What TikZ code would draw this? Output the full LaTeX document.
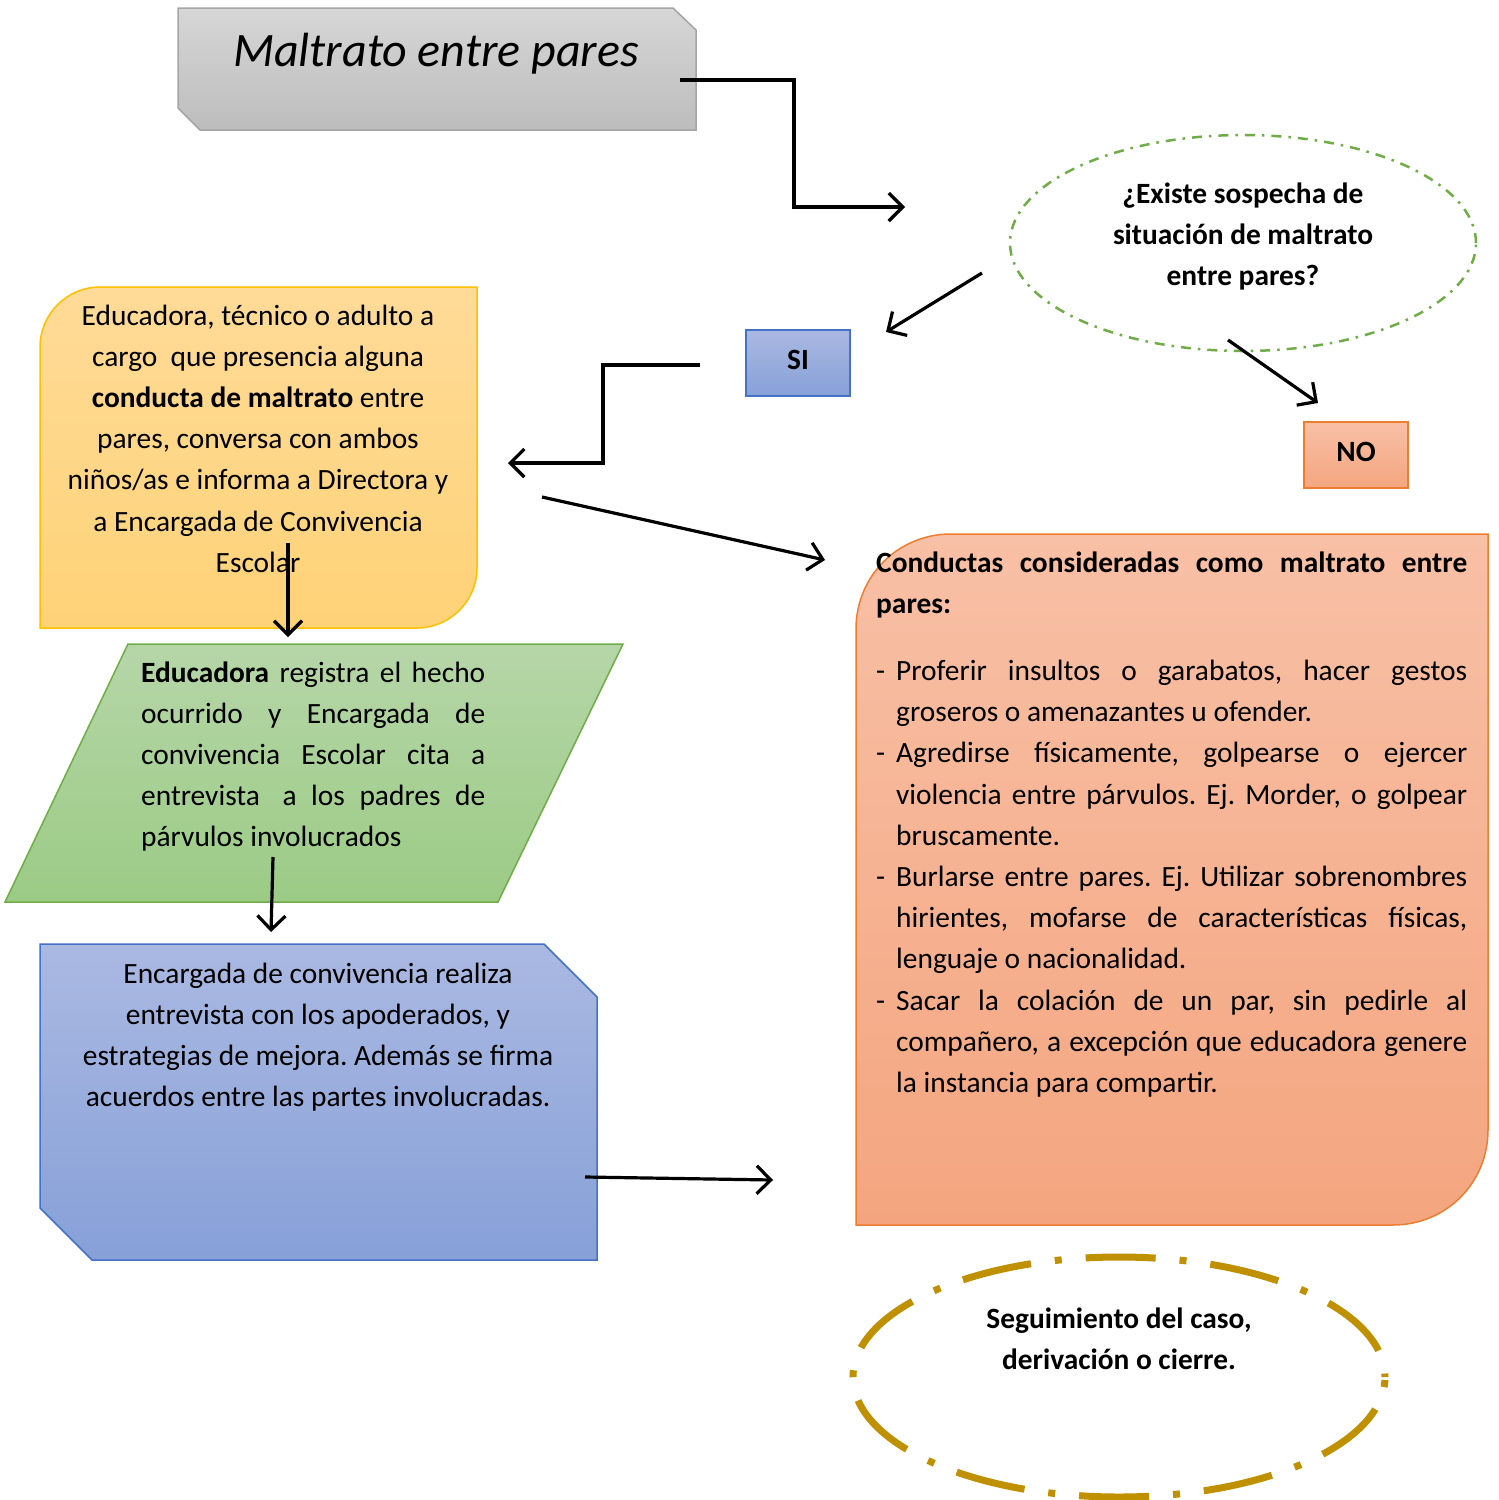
\documentclass[tikz,border=0pt]{standalone}
\usepackage{fontspec}
\setmainfont{Carlito}
\usetikzlibrary{arrows.meta,shapes.geometric}
\definecolor{titleTop}{HTML}{D6D6D6}
\definecolor{titleBot}{HTML}{BDBDBD}
\definecolor{titleLine}{HTML}{A5A5A5}
\definecolor{yelTop}{HTML}{FFDB98}
\definecolor{yelBot}{HTML}{FED277}
\definecolor{yelLine}{HTML}{FFC000}
\definecolor{grnTop}{HTML}{B6D6A8}
\definecolor{grnBot}{HTML}{9BCB85}
\definecolor{grnLine}{HTML}{70AD47}
\definecolor{bluTop}{HTML}{AAB9E2}
\definecolor{bluBot}{HTML}{87A0D8}
\definecolor{bluLine}{HTML}{4472C4}
\definecolor{orgTop}{HTML}{F8C0A6}
\definecolor{orgBot}{HTML}{F4A57F}
\definecolor{orgLine}{HTML}{ED7D31}
\definecolor{goldLine}{HTML}{BF9000}
\newcommand\ns{\spaceskip=0pt\relax\xspaceskip=0pt\relax\frenchspacing}
\newcommand\nc{\ns\leftskip=0pt plus 1fil\relax\rightskip=0pt plus 1fil\relax\parfillskip=0pt\relax}
\newcommand\nl{\ns\leftskip=0pt\relax\rightskip=0pt plus 1fil\relax}
\newcommand\jl[2]{\leavevmode\hbox to #1{\spaceskip=\fontdimen2\font plus 1fil\relax\xspaceskip=\spaceskip #2}}
\begin{document}
\begin{tikzpicture}[x=1pt,y=-1pt,
  arr/.style={line width=3.2pt,-{Straight Barb[length=14pt,width=28pt]}},
  body/.style={font=\fontsize{29.4}{41.2}\selectfont, inner sep=0pt},
  bbody/.style={font=\fontsize{29.4}{41.2}\selectfont\bfseries, inner sep=0pt},
  shapeline/.style={line width=1.5pt}
]
\useasboundingbox (0,0) rectangle (1499,1500);
\fill[white] (0,0) rectangle (1499,1500);

% title
\path[shapeline, draw=titleLine, top color=titleTop, bottom color=titleBot]
  (178,8) -- (673,8) -- (696,30) -- (696,130) -- (200,130) -- (178,108) -- cycle;
\node[font=\fontsize{48}{58}\selectfont\itshape, anchor=base, inner sep=0] (title) at (436,66) {Maltrato entre pares};

% question ellipse
\node[ellipse, draw=grnLine, line width=2.5pt, dash pattern=on 10pt off 7pt on 2.5pt off 7pt,
  minimum width=466pt, minimum height=216pt, inner sep=0] (q) at (1243,243) {};
\node[bbody, align=center, anchor=base, text width=420pt] (qtext) at (1243,203) {\nc ¿Existe sospecha de\\situación de maltrato\\entre pares?\par};

% SI / NO
\node[shapeline, draw=bluLine, top color=bluTop, bottom color=bluBot, minimum width=104pt, minimum height=66pt,
  inner sep=0] (si) at (798,363) {};
\node[font=\fontsize{29.4}{35}\selectfont\bfseries, inner sep=0, anchor=base] (sitext) at (798,369) {SI};
\node[shapeline, draw=orgLine, top color=orgTop, bottom color=orgBot, minimum width=104pt, minimum height=66pt,
  inner sep=0] (no) at (1356,455) {};
\node[font=\fontsize{29.4}{35}\selectfont\bfseries, inner sep=0, anchor=base] (notext) at (1356,461) {NO};

% yellow box
\path[shapeline, draw=yelLine, top color=yelTop, bottom color=yelBot]
  (40,628) -- (40,347) .. controls (40,314) and (67,287) .. (100,287) -- (477,287) -- (477,568)
  .. controls (477,601) and (450,628) .. (417,628) -- cycle;
\node[body, align=center, anchor=base, text width=430pt] (ytext) at (258,325)
  {\nc Educadora, técnico o adulto a\\cargo \ que presencia alguna\\\textbf{conducta de maltrato} entre\\pares, conversa con ambos\\niños/as e informa a Directora y\\a Encargada de Convivencia\\Escolar\par};

% green parallelogram
\path[shapeline, draw=grnLine, top color=grnTop, bottom color=grnBot]
  (128,644) -- (623,644) -- (498,902) -- (5,902) -- cycle;
\node[body, align=left, anchor=base west, text width=344pt] (gtext) at (141,682)
  {\nl\jl{344pt}{\textbf{Educadora} registra el hecho}\\
   \jl{344pt}{ocurrido y Encargada de}\\
   \jl{344pt}{convivencia Escolar cita a}\\
   \jl{344pt}{entrevista\hspace{8pt} a los padres de}\\
   párvulos involucrados\par};

% blue snipped box
\path[shapeline, draw=bluLine, top color=bluTop, bottom color=bluBot]
  (40,944) -- (544,944) -- (597,997) -- (597,1260) -- (92,1260) -- (40,1208) -- cycle;
\node[body, align=center, anchor=base, text width=540pt] (btext) at (318,983)
  {\nc Encargada de convivencia realiza\\entrevista con los apoderados, y\\estrategias de mejora. Además se firma\\acuerdos entre las partes involucradas.\par};

% orange box
\path[shapeline, draw=orgLine, top color=orgTop, bottom color=orgBot]
  (856,1225) -- (856,629) .. controls (856,576) and (898,534) .. (951,534) -- (1488,534) -- (1488,1130)
  .. controls (1488,1183) and (1446,1225) .. (1393,1225) -- cycle;
\node[body, align=left, anchor=base west, text width=591pt] (otext) at (876,572)
  {\nl\jl{591pt}{\bfseries Conductas consideradas como maltrato entre}\\
   \textbf{pares:}\\[26pt]
   \makebox[20pt][l]{-}\jl{571pt}{Proferir insultos o garabatos, hacer gestos}\\
   \hspace*{20pt}groseros o amenazantes u ofender.\\
   \makebox[20pt][l]{-}\jl{571pt}{Agredirse físicamente, golpearse o ejercer}\\
   \hspace*{20pt}\jl{571pt}{violencia entre párvulos. Ej. Morder, o golpear}\\
   \hspace*{20pt}bruscamente.\\
   \makebox[20pt][l]{-}\jl{571pt}{Burlarse entre pares. Ej. Utilizar sobrenombres}\\
   \hspace*{20pt}\jl{571pt}{hirientes, mofarse de características físicas,}\\
   \hspace*{20pt}lenguaje o nacionalidad.\\
   \makebox[20pt][l]{-}\jl{571pt}{Sacar la colación de un par, sin pedirle al}\\
   \hspace*{20pt}\jl{571pt}{compañero, a excepción que educadora genere}\\
   \hspace*{20pt}la instancia para compartir.\par};

% gold ellipse
\node[ellipse, draw=goldLine, line width=7pt, dash pattern=on 70pt off 24pt on 7pt off 24pt, dash phase=97.5pt,
  minimum width=532pt, minimum height=240pt, inner sep=0] (fin) at (1119,1377) {};
\node[bbody, align=center, anchor=base, text width=440pt] (ftext) at (1119,1328) {\nc Seguimiento del caso,\\derivación o cierre.\par};

% connector ends
\coordinate (a1s) at (680,80);   \coordinate (a1e) at (905,207);
\coordinate (a2s) at (982,273);  \coordinate (a2e) at (886,332);
\coordinate (a3s) at (1228,340); \coordinate (a3e) at (1318,403);
\coordinate (a4s) at (700,365);  \coordinate (a4e) at (508,463);
\coordinate (a5s) at (542,497);  \coordinate (a5e) at (825,560);
\coordinate (a6s) at (288,543);  \coordinate (a6e) at (288,637);
\coordinate (a7s) at (273,857);  \coordinate (a7e) at (271,932);
\coordinate (a8s) at (585,1177); \coordinate (a8e) at (773,1180);

\draw[arr] (a1s) -- ++(114,0) |- (a1e);
\draw[arr] (a2s) -- (a2e);
\draw[arr] (a3s) -- (a3e);
\draw[arr] (a4s) -- ++(-97,0) |- (a4e);
\draw[arr] (a5s) -- (a5e);
\draw[arr] (a6s) -- (a6e);
\draw[arr] (a7s) -- (a7e);
\draw[arr] (a8s) -- (a8e);
\end{tikzpicture}
\end{document}
